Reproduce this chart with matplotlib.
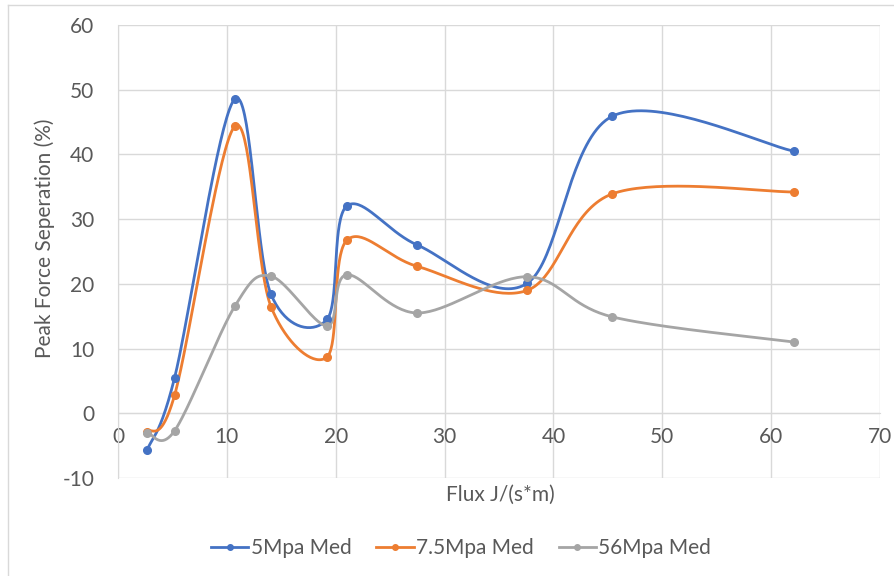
import numpy as np
import matplotlib.pyplot as plt
from matplotlib.lines import Line2D

plt.rcParams['font.family'] = ['Lato', 'DejaVu Sans']
plt.rcParams['axes.unicode_minus'] = False

# Flux values shared by the three series
flux = [2.7, 5.2, 10.75, 14.05, 19.2, 21.0, 27.5, 37.6, 45.4, 62.1]

sep_5mpa = [-5.6, 5.5, 48.6, 18.4, 14.5, 32.0, 26.0, 20.1, 45.9, 40.5]
sep_7_5mpa = [-2.9, 2.8, 44.4, 16.5, 8.7, 26.7, 22.7, 19.0, 33.9, 34.2]
sep_56mpa = [-3.0, -2.7, 16.6, 21.2, 13.5, 21.4, 15.5, 21.1, 14.9, 11.0]

series_names = ["5Mpa Med", "7.5Mpa Med", "56Mpa Med"]
colors = ["#4472C4", "#ED7D31", "#A5A5A5"]

TEXT = "#595959"
GRID = "#D9D9D9"
FS = 15


def smooth_curve(x, y, n=40):
    """Bezier smoothing through every point (Catmull-Rom style)."""
    p = np.column_stack([x, y]).astype(float)
    ext = np.vstack([p[0], p, p[-1]])
    out = []
    t = np.linspace(0, 1, n)[:, None]
    for i in range(len(p) - 1):
        p0, p1, p2, p3 = ext[i], ext[i + 1], ext[i + 2], ext[i + 3]
        c1 = p1 + (p2 - p0) / 6.0
        c2 = p2 - (p3 - p1) / 6.0
        seg = ((1 - t) ** 3) * p1 + 3 * ((1 - t) ** 2) * t * c1 \
            + 3 * (1 - t) * t ** 2 * c2 + t ** 3 * p2
        out.append(seg if i == 0 else seg[1:])
    seg = np.vstack(out)
    return seg[:, 0], seg[:, 1]


fig = plt.figure(figsize=(8.94, 5.76), dpi=100)
ax = fig.add_axes([118 / 894, 1 - 478 / 576, 762 / 894, 453 / 576])

for ys, name, c in zip([sep_5mpa, sep_7_5mpa, sep_56mpa], series_names, colors):
    sx, sy = smooth_curve(flux, ys)
    ax.plot(sx, sy, color=c, lw=2.0, solid_capstyle="round", zorder=3)
    ax.plot(flux, ys, "o", color=c, ms=5.5, zorder=4)

ax.set_xlim(0, 70)
ax.set_ylim(-10, 60)
ax.set_xticks(range(0, 71, 10))
ax.set_yticks(range(-10, 61, 10))
ax.grid(True, color=GRID, lw=1.0, zorder=0)
ax.set_axisbelow(True)

for side in ["top", "right"]:
    ax.spines[side].set_visible(False)
ax.spines["left"].set_color(GRID)
ax.spines["bottom"].set_color(GRID)
ax.spines["bottom"].set_position(("data", 0))
ax.tick_params(axis="both", length=0, labelsize=FS, labelcolor=TEXT)
ax.tick_params(axis="x", pad=10)
ax.tick_params(axis="y", pad=17)

fig.text(500 / 894, 1 - 495 / 576, "Flux J/(s*m)", ha="center", va="center",
         fontsize=FS, color=TEXT)
fig.text(45 / 894, 1 - 238 / 576, "Peak Force Seperation (%)", ha="center",
         va="center", rotation=90, fontsize=FS, color=TEXT)

handles = [Line2D([0], [0], color=c, lw=2, marker="o", ms=4) for c in colors]
leg = fig.legend(handles, series_names, loc="center", ncol=3, frameon=False,
                 bbox_to_anchor=(461 / 894, 1 - 548 / 576), fontsize=FS,
                 handlelength=1.8, handletextpad=0.1, columnspacing=1.2)
for t in leg.get_texts():
    t.set_color(TEXT)

# light chart border on the left and top
fig.add_artist(Line2D([8 / 894, 8 / 894], [0, 1 - 5 / 576],
                      transform=fig.transFigure, color=GRID, lw=1))
fig.add_artist(Line2D([8 / 894, 1], [1 - 5 / 576, 1 - 5 / 576],
                      transform=fig.transFigure, color=GRID, lw=1))

fig.savefig("out.png", dpi=100)
